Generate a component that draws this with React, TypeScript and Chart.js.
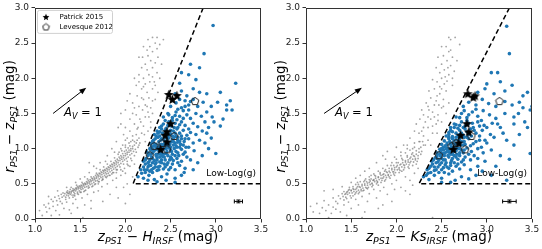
import React, { useEffect, useRef } from "react";
import { Chart, registerables } from "chart.js";
Chart.register(...registerables);

type P = [number, number];

// ---------- axes ----------
const X_MIN = 1.0, X_MAX = 3.5, X_STEP = 0.5;
const Y_MIN = 0.0, Y_MAX = 3.0, Y_STEP = 0.5;

// ---------- left panel (z - H) ----------
const GREY_L_BAND: P[] = [[1.12,0.17],[1.15,0.22],[1.18,0.28],[1.2,0.18],[1.22,0.31],[1.24,0.26],[1.26,0.33],[1.27,0.29],[1.29,0.35],[1.3,0.31],[1.31,0.37],[1.32,0.33],[1.33,0.36],[1.34,0.31],[1.35,0.38],[1.35,0.34],[1.36,0.4],[1.37,0.36],[1.37,0.33],[1.38,0.39],[1.39,0.35],[1.39,0.42],[1.4,0.37],[1.41,0.4],[1.41,0.34],[1.42,0.43],[1.43,0.38],[1.43,0.41],[1.44,0.36],[1.45,0.44],[1.45,0.4],[1.46,0.42],[1.47,0.38],[1.47,0.46],[1.48,0.43],[1.49,0.4],[1.49,0.47],[1.5,0.44],[1.51,0.42],[1.51,0.48],[1.52,0.45],[1.53,0.5],[1.53,0.43],[1.54,0.47],[1.55,0.51],[1.55,0.45],[1.56,0.49],[1.57,0.46],[1.57,0.53],[1.58,0.5],[1.59,0.47],[1.59,0.55],[1.6,0.51],[1.61,0.49],[1.61,0.56],[1.62,0.53],[1.63,0.5],[1.63,0.58],[1.64,0.55],[1.65,0.52],[1.65,0.6],[1.66,0.56],[1.67,0.54],[1.67,0.62],[1.68,0.58],[1.69,0.55],[1.69,0.63],[1.7,0.6],[1.71,0.57],[1.71,0.65],[1.72,0.61],[1.73,0.59],[1.73,0.67],[1.74,0.63],[1.75,0.6],[1.75,0.69],[1.76,0.65],[1.77,0.62],[1.77,0.7],[1.78,0.66],[1.79,0.64],[1.79,0.72],[1.8,0.68],[1.81,0.65],[1.81,0.74],[1.82,0.7],[1.83,0.67],[1.83,0.76],[1.84,0.72],[1.85,0.69],[1.85,0.78],[1.86,0.74],[1.87,0.71],[1.87,0.8],[1.88,0.76],[1.89,0.73],[1.89,0.83],[1.9,0.78],[1.91,0.75],[1.91,0.85],[1.92,0.8],[1.93,0.77],[1.93,0.88],[1.94,0.83],[1.95,0.79],[1.95,0.9],[1.96,0.85],[1.97,0.82],[1.97,0.93],[1.98,0.87],[1.99,0.84],[1.99,0.96],[2.0,0.9],[2.01,0.86],[2.01,0.98],[2.02,0.92],[2.03,0.88],[2.03,1.01],[2.04,0.95],[2.05,0.91],[2.05,1.04],[2.06,0.97],[2.07,0.93],[2.08,1.0],[2.09,0.96],[2.1,1.05],[2.11,0.99],[2.12,1.08],[2.14,1.02],
[1.38,0.3],[1.4,0.45],[1.44,0.33],[1.46,0.48],[1.5,0.38],[1.52,0.52],[1.56,0.41],[1.58,0.57],[1.6,0.45],[1.62,0.6],[1.66,0.49],[1.68,0.65],[1.7,0.53],[1.72,0.7],[1.74,0.55],[1.76,0.74],[1.78,0.6],[1.8,0.78],[1.82,0.62],[1.84,0.82],[1.86,0.66],[1.88,0.87],[1.9,0.7],[1.92,0.92],[1.94,0.74],[1.96,0.97],[1.98,0.78],[2.0,1.02],[2.02,0.82],[2.04,1.08],[2.06,0.86],[2.08,1.12],[1.97,1.05],[2.0,1.12],[1.95,1.0],[1.93,0.95],[2.02,0.78],[1.9,0.66],[1.85,0.64],[1.8,0.61],[1.75,0.56],[1.7,0.5],[1.64,0.47],[1.54,0.39],[1.48,0.35],[1.42,0.31],[1.34,0.28],[1.28,0.25],
[1.36,0.37],[1.38,0.37],[1.4,0.39],[1.42,0.4],[1.44,0.42],[1.46,0.44],[1.48,0.45],[1.5,0.46],[1.52,0.47],[1.54,0.49],[1.56,0.5],[1.58,0.52],[1.6,0.53],[1.62,0.55],[1.64,0.57],[1.66,0.58],[1.68,0.6],[1.7,0.62],[1.72,0.64],[1.74,0.66],[1.76,0.68],[1.78,0.69],[1.8,0.71],[1.82,0.73],[1.84,0.75],[1.86,0.77],[1.88,0.79],[1.9,0.81],[1.92,0.83],[1.94,0.86],[1.96,0.88],[1.98,0.9],[2.0,0.93],[2.02,0.95],[2.04,0.98],[2.06,1.0],[2.08,1.03],[2.1,0.9],[2.12,0.95],[2.13,1.12],[2.15,1.05],[2.07,0.83],[2.03,0.76],[1.99,0.72],[1.95,0.7],[1.91,0.7],[1.87,0.66],[1.83,0.62],[1.79,0.59],[1.75,0.57],[1.71,0.53],[1.67,0.5],[1.63,0.46],[1.59,0.44],[1.55,0.4],[1.51,0.38],[1.47,0.36],[1.43,0.34]];
const GREY_L_SCATTER: P[] = [[1.05,0.12],[1.08,0.05],[1.1,0.2],[1.13,0.1],[1.16,0.15],[1.18,0.05],[1.2,0.25],[1.23,0.12],[1.25,0.2],[1.27,0.06],[1.3,0.22],[1.32,0.15],[1.35,0.24],[1.38,0.13],[1.42,0.22],[1.45,0.28],[1.47,0.16],[1.52,0.3],[1.55,0.6],[1.5,0.57],[1.45,0.52],[1.6,0.66],[1.58,0.35],[1.62,0.26],[1.65,0.38],[1.7,0.4],[1.68,0.72],[1.74,0.46],[1.78,0.82],[1.8,0.5],[1.83,0.35],[1.86,0.55],[1.88,0.95],[1.9,0.58],[1.92,0.3],[1.95,0.62],[1.97,0.68],[2.0,0.65],[2.02,0.5],[2.05,0.75],[2.05,0.35],[2.0,0.22],[1.9,0.45],[1.75,0.25],[1.62,0.15],[1.4,0.08],[1.53,0.02],[1.85,1.0],[1.8,0.9],[1.72,0.8],[1.65,0.75],[1.6,0.8],[1.55,0.2],[2.08,0.6],[2.1,0.78],[1.98,0.45],[1.35,0.45],[1.25,0.4],[1.15,0.32]];
const GREY_L_SPRAY: P[] = [[2.1,1.1],[2.12,1.2],[2.15,1.15],[2.08,1.18],[2.14,1.3],[2.18,1.22],[2.05,1.25],[2.1,1.35],[2.2,1.32],[2.16,1.42],[2.22,1.45],[2.12,1.48],[2.19,1.55],[2.25,1.52],[2.08,1.5],[2.15,1.6],[2.22,1.62],[2.28,1.58],[2.2,1.7],[2.26,1.72],[2.13,1.75],[2.3,1.68],[2.24,1.8],[2.18,1.85],[2.3,1.85],[2.22,1.92],[2.27,1.95],[2.33,1.9],[2.2,2.0],[2.26,2.05],[2.3,2.02],[2.24,2.12],[2.3,2.15],[2.35,2.08],[2.22,2.2],[2.28,2.25],[2.33,2.22],[2.25,2.32],[2.3,2.38],[2.36,2.3],[2.27,2.45],[2.33,2.5],[2.3,2.58],[2.38,2.48],[2.35,2.42],[2.4,2.2],[2.38,2.0],[2.36,1.8],[2.33,1.7],[2.3,1.5],[2.28,1.38],[2.25,1.25],[2.22,1.1],[2.02,1.15],[1.98,1.2],[2.0,1.3],[1.95,1.35],[2.05,1.42],[2.0,1.55],[2.08,1.65],[2.05,1.78],[2.12,1.9],[2.15,2.05],[2.18,2.15],[2.1,2.0],[2.15,1.95],[2.18,1.72],[2.1,1.58],[2.17,1.38],[2.24,1.6],[2.13,1.28],[2.2,1.88],[2.26,1.45],[2.32,1.95],[2.19,2.3],[2.24,2.4],[1.92,1.3],[1.9,1.1],[2.0,1.05],[2.06,1.1],[2.25,2.55],[2.2,2.45],[2.15,2.3],[2.35,2.58],[2.42,2.55],[2.28,1.3],[2.21,1.2],[2.16,1.08],[1.95,1.5],[2.02,1.68]];
const BLUE_L_CORE: P[] = [[2.14,0.6],[2.2,0.58],[2.26,0.62],[2.32,0.56],[2.4,0.6],[2.46,0.64],[2.55,0.58],[2.62,0.62],[2.18,0.65],[2.3,0.66],
[2.17,0.7],[2.2,0.74],[2.24,0.7],[2.28,0.76],[2.31,0.72],[2.35,0.69],[2.38,0.75],[2.42,0.71],[2.46,0.77],[2.5,0.73],[2.55,0.7],[2.6,0.76],[2.66,0.72],[2.22,0.78],[2.33,0.78],[2.27,0.68],
[2.2,0.82],[2.23,0.86],[2.26,0.81],[2.29,0.88],[2.32,0.83],[2.35,0.87],[2.38,0.81],[2.41,0.89],[2.44,0.84],[2.47,0.8],[2.5,0.88],[2.53,0.83],[2.57,0.86],[2.62,0.82],[2.68,0.88],[2.25,0.9],[2.36,0.92],[2.3,0.8],[2.72,0.84],[2.4,0.84],
[2.24,0.95],[2.27,1.0],[2.3,0.94],[2.33,0.98],[2.36,1.02],[2.39,0.95],[2.42,0.99],[2.45,0.93],[2.48,1.01],[2.51,0.96],[2.54,1.0],[2.58,0.94],[2.62,0.99],[2.66,0.95],[2.7,1.02],[2.76,0.97],[2.29,1.03],[2.44,1.04],[2.56,1.04],[2.34,0.92],
[2.28,1.07],[2.31,1.12],[2.34,1.06],[2.37,1.1],[2.4,1.14],[2.43,1.07],[2.46,1.11],[2.49,1.06],[2.52,1.13],[2.55,1.08],[2.58,1.12],[2.61,1.06],[2.65,1.1],[2.7,1.14],[2.75,1.08],[2.82,1.12],[2.38,1.05],[2.5,1.09],[2.62,1.14],[2.33,1.14],
[2.32,1.2],[2.35,1.25],[2.38,1.18],[2.41,1.22],[2.44,1.26],[2.47,1.17],[2.5,1.21],[2.53,1.25],[2.56,1.18],[2.6,1.22],[2.64,1.26],[2.68,1.19],[2.72,1.23],[2.78,1.2],[2.85,1.25],[2.46,1.23],[2.58,1.16],[2.36,1.22],
[2.38,1.3],[2.42,1.35],[2.45,1.29],[2.48,1.38],[2.51,1.32],[2.55,1.36],[2.58,1.3],[2.62,1.38],[2.66,1.33],[2.7,1.28],[2.75,1.36],[2.8,1.31],[2.88,1.38],[2.52,1.4],[2.6,1.34],[2.92,1.3],
[2.42,1.45],[2.47,1.5],[2.52,1.44],[2.56,1.52],[2.6,1.46],[2.64,1.54],[2.68,1.48],[2.72,1.43],[2.78,1.5],[2.84,1.46],[2.9,1.52],[2.96,1.45],[2.55,1.47],[2.7,1.55],
[2.5,1.6],[2.56,1.65],[2.62,1.58],[2.66,1.68],[2.7,1.62],[2.75,1.7],[2.8,1.6],[2.86,1.66],[2.95,1.6],[3.02,1.66],[3.12,1.62],[3.16,1.68],[2.6,1.7],[2.72,1.67],
[2.3,0.86],[2.34,0.9],[2.38,0.88],[2.42,0.92],[2.46,0.96],[2.5,0.98],[2.37,0.97],[2.41,1.01],[2.45,1.0],[2.4,1.06],[2.44,1.1],[2.48,1.15],[2.35,1.0],[2.32,1.04],[2.28,0.98],[2.26,0.93],[2.27,0.84],[2.34,0.8],[2.43,0.78],[2.52,0.92],[2.56,0.96],[2.6,1.02],[2.64,1.05],[2.54,1.16],[2.5,1.26],[2.57,1.28],[2.4,1.28],[2.47,1.33],[2.25,0.74],[2.21,0.7],[2.36,0.74],[2.49,0.84],[2.39,1.12],[2.43,1.18],[2.36,1.16],[2.31,1.08],[2.3,1.0],[2.47,1.04],[2.53,1.05],[2.58,1.09],
[2.22,0.66],[2.26,0.76],[2.29,0.7],[2.33,0.74],[2.37,0.7],[2.4,0.8],[2.44,0.74],[2.48,0.7],[2.52,0.78],[2.58,0.8],[2.22,0.84],[2.25,0.8],[2.28,0.92],[2.31,0.96],[2.35,0.84],[2.39,0.92],[2.43,0.88],[2.47,0.9],[2.51,0.86],[2.55,0.9],[2.59,0.9],[2.64,0.92],[2.3,1.1],[2.34,1.02],[2.38,1.02],[2.42,1.04],[2.46,1.07],[2.5,1.02],[2.53,1.1],[2.57,1.02],[2.6,1.1],[2.67,1.02],[2.34,1.18],[2.38,1.24],[2.42,1.13],[2.45,1.16],[2.49,1.2],[2.52,1.18],[2.55,1.22],[2.62,1.18],[2.66,1.14],[2.4,1.32],[2.44,1.4],[2.5,1.35],[2.54,1.3],[2.57,1.41],[2.64,1.43],[2.48,1.48],[2.58,1.56],[2.66,1.6]];
const BLUE_L_OUT: P[] = [[2.55,1.78],[2.62,1.82],[2.68,1.75],[2.75,1.85],[2.82,1.8],[2.9,1.78],[3.05,1.8],[3.22,1.93],[2.6,1.93],[2.7,2.05],[2.62,2.08],[2.78,1.98],[2.87,2.35],[2.97,2.75],[2.72,2.2],[2.82,2.15],[3.0,0.93],[2.92,1.0],[2.95,1.15],[3.08,1.42],[3.12,1.55],[2.85,0.9],[2.8,0.8],[2.75,0.7],[2.45,0.55],[2.55,0.52],[2.35,0.53],[2.25,0.55],[2.65,0.66],[3.18,1.55],[3.05,1.32],[2.98,1.38],[2.88,1.08],[2.9,1.22]];
const STARS_L: P[] = [[2.48,1.77],[2.57,1.755],[2.52,1.70],[2.50,1.355],[2.46,1.24],[2.44,1.19],[2.46,1.095],[2.39,0.99]];
const PENTS_L: P[] = [[2.27,0.906],[2.32,1.04],[2.41,1.08],[2.46,0.99],[2.54,1.18],[2.77,1.676]];
const CUT_L: P[] = [[2.86,3.0],[2.085,0.5],[3.5,0.5]];
const ARROW_L: P[] = [[1.2,1.5],[1.567,1.865]];
const ERR_L = { x: 3.25, y: 0.25, dx: 0.045, dy: 0.02 };

// ---------- right panel (z - Ks) ----------
const GREY_R_BAND: P[] = [[1.3,0.3],[1.33,0.25],[1.36,0.33],[1.38,0.29],[1.4,0.36],[1.41,0.32],[1.42,0.39],[1.43,0.35],[1.44,0.31],[1.45,0.38],[1.46,0.35],[1.47,0.41],[1.48,0.37],[1.49,0.33],[1.5,0.4],[1.51,0.37],[1.52,0.43],[1.53,0.39],[1.54,0.35],[1.55,0.42],[1.56,0.39],[1.57,0.46],[1.58,0.41],[1.59,0.38],[1.6,0.45],[1.61,0.42],[1.62,0.49],[1.63,0.44],[1.64,0.41],[1.65,0.48],[1.66,0.45],[1.67,0.53],[1.68,0.48],[1.69,0.45],[1.7,0.52],[1.71,0.49],[1.72,0.57],[1.73,0.51],[1.74,0.48],[1.75,0.56],[1.76,0.53],[1.77,0.61],[1.78,0.55],[1.79,0.52],[1.8,0.59],[1.81,0.56],[1.82,0.64],[1.83,0.58],[1.84,0.55],[1.85,0.63],[1.86,0.6],[1.87,0.68],[1.88,0.62],[1.89,0.59],[1.9,0.66],[1.91,0.63],[1.92,0.72],[1.93,0.66],[1.94,0.62],[1.95,0.7],[1.96,0.67],[1.97,0.76],[1.98,0.7],[1.99,0.66],[2.0,0.74],[2.01,0.7],[2.02,0.8],[2.03,0.73],[2.04,0.69],[2.05,0.78],[2.06,0.74],[2.07,0.84],[2.08,0.77],[2.09,0.73],[2.1,0.81],[2.11,0.78],[2.12,0.88],[2.13,0.81],[2.14,0.77],[2.15,0.86],[2.16,0.82],[2.17,0.92],[2.18,0.85],[2.19,0.81],[2.2,0.89],[2.21,0.86],[2.22,0.97],[2.24,0.9],[2.25,0.95],[2.27,1.02],[2.28,0.96],[2.3,1.05],
[1.45,0.29],[1.48,0.45],[1.52,0.33],[1.55,0.49],[1.58,0.36],[1.6,0.53],[1.63,0.4],[1.66,0.57],[1.68,0.43],[1.7,0.6],[1.73,0.46],[1.75,0.64],[1.78,0.5],[1.8,0.68],[1.83,0.52],[1.85,0.72],[1.88,0.56],[1.9,0.76],[1.93,0.58],[1.95,0.8],[1.98,0.62],[2.0,0.85],[2.03,0.66],[2.05,0.9],[2.08,0.7],[2.1,0.94],[2.13,0.74],[2.15,0.98],[2.18,0.76],[2.2,1.02],[2.23,0.82],[2.26,1.1],[2.12,1.0],[2.05,0.95],[1.98,0.88],[1.5,0.3],[1.42,0.27],[1.57,0.52],[1.65,0.55],[1.72,0.62],[1.8,0.48],[1.87,0.54],[1.92,0.6],[1.97,0.64],[2.06,0.68],[2.14,0.72],[2.22,0.78],
[1.44,0.36],[1.46,0.39],[1.5,0.41],[1.53,0.42],[1.56,0.44],[1.59,0.46],[1.62,0.47],[1.65,0.5],[1.68,0.51],[1.71,0.54],[1.74,0.55],[1.77,0.58],[1.8,0.6],[1.83,0.62],[1.86,0.64],[1.89,0.67],[1.92,0.68],[1.95,0.72],[1.98,0.73],[2.01,0.76],[2.04,0.77],[2.07,0.8],[2.1,0.83],[2.13,0.84],[2.16,0.88],[2.19,0.9],[2.22,0.92],[2.25,1.0],[2.27,0.92],[2.29,1.1],[2.24,0.86],[2.18,0.94],[2.12,0.9],[2.06,0.86],[2.0,0.8],[1.94,0.76],[1.88,0.7],[1.82,0.66],[1.76,0.62],[1.7,0.56],[1.64,0.53],[1.58,0.49],[1.52,0.46],[1.48,0.42],[1.55,0.37],[1.61,0.4],[1.67,0.44],[1.73,0.5],[1.79,0.53],[1.85,0.58],[1.91,0.62],[1.97,0.67],[2.03,0.71],[2.09,0.76],[2.15,0.8],[2.21,0.84]];
const GREY_R_SCATTER: P[] = [[1.05,0.18],[1.08,0.1],[1.12,0.22],[1.15,0.08],[1.18,0.16],[1.2,0.26],[1.22,0.12],[1.25,0.2],[1.28,0.08],[1.3,0.17],[1.33,0.14],[1.35,0.22],[1.38,0.1],[1.42,0.2],[1.47,0.24],[1.5,0.15],[1.55,0.28],[1.58,0.2],[1.62,0.32],[1.68,0.25],[1.7,0.36],[1.75,0.42],[1.78,0.3],[1.82,0.4],[1.86,0.45],[1.9,0.35],[1.95,0.5],[2.0,0.55],[2.05,0.45],[2.1,0.6],[2.15,0.55],[2.2,0.65],[2.18,0.48],[2.24,0.72],[1.95,0.25],[1.85,0.2],[1.6,0.62],[1.55,0.58],[1.5,0.52],[1.7,0.72],[1.78,0.8],[1.85,0.9],[1.65,0.1],[1.45,0.05],[1.62,0.02],[1.9,0.96],[2.0,1.02],[2.08,1.05],[1.8,0.15],[1.4,0.46],[1.3,0.42],[1.75,0.55],[2.1,0.4],[2.4,0.02],[2.15,0.35],[1.98,0.42],[1.88,0.85],[1.65,0.68],[1.2,0.4],[1.25,0.02]];
const GREY_R_SPRAY: P[] = [[2.25,1.1],[2.3,1.18],[2.35,1.12],[2.28,1.25],[2.35,1.3],[2.4,1.22],[2.32,1.38],[2.38,1.42],[2.44,1.35],[2.3,1.48],[2.4,1.52],[2.46,1.48],[2.35,1.6],[2.42,1.62],[2.5,1.58],[2.38,1.72],[2.45,1.75],[2.52,1.7],[2.42,1.85],[2.48,1.88],[2.55,1.82],[2.45,1.95],[2.5,2.0],[2.56,1.96],[2.48,2.08],[2.53,2.12],[2.58,2.05],[2.5,2.2],[2.56,2.25],[2.6,2.18],[2.52,2.32],[2.58,2.38],[2.55,2.45],[2.6,2.55],[2.62,2.3],[2.64,2.1],[2.62,1.9],[2.58,1.65],[2.55,1.5],[2.5,1.38],[2.45,1.22],[2.38,1.05],[2.2,1.08],[2.25,1.22],[2.22,1.35],[2.28,1.55],[2.33,1.65],[2.36,1.82],[2.4,1.98],[2.44,2.15],[2.46,2.3],[2.5,2.45],[2.4,1.32],[2.47,1.62],[2.53,1.92],[2.57,2.15],[2.32,1.05],[2.42,1.45],[2.48,1.78],[2.35,1.45],[2.44,1.68],[2.5,1.85],[2.54,2.02],[2.6,2.4],[2.65,2.58],[2.58,2.58],[2.2,1.25],[2.18,1.0],[2.26,1.42],[2.3,1.3],[2.36,1.55],[2.62,2.0],[2.67,2.25],[2.7,2.48],[2.52,1.6],[2.46,1.4],[2.15,1.15],[2.12,1.05]];
const BLUE_R_CORE: P[] = [[2.3,0.6],[2.36,0.56],[2.42,0.62],[2.5,0.58],[2.58,0.64],[2.65,0.55],[2.72,0.6],[2.8,0.57],[2.35,0.65],[2.47,0.66],[2.6,0.52],
[2.34,0.7],[2.38,0.75],[2.42,0.69],[2.46,0.74],[2.5,0.7],[2.54,0.77],[2.58,0.72],[2.62,0.68],[2.66,0.75],[2.7,0.71],[2.75,0.77],[2.82,0.7],[2.9,0.75],[2.4,0.78],[2.52,0.73],[2.36,0.72],
[2.39,0.82],[2.43,0.87],[2.46,0.81],[2.49,0.89],[2.52,0.84],[2.55,0.8],[2.58,0.88],[2.61,0.83],[2.64,0.9],[2.68,0.85],[2.72,0.81],[2.76,0.88],[2.82,0.84],[2.9,0.86],[2.98,0.82],[2.45,0.9],[2.6,0.8],[2.5,0.86],
[2.45,0.94],[2.48,0.99],[2.52,0.93],[2.55,1.0],[2.58,0.95],[2.61,1.02],[2.64,0.96],[2.67,0.92],[2.7,1.0],[2.74,0.94],[2.78,1.01],[2.83,0.96],[2.9,1.0],[2.96,0.94],[3.05,0.98],[2.52,1.02],[2.6,0.92],[2.66,1.02],
[2.5,1.06],[2.53,1.11],[2.56,1.05],[2.59,1.1],[2.62,1.14],[2.65,1.07],[2.68,1.12],[2.71,1.05],[2.75,1.1],[2.8,1.14],[2.85,1.07],[2.92,1.12],[3.0,1.08],[2.58,1.14],[2.7,1.14],[2.64,1.04],
[2.55,1.18],[2.58,1.23],[2.62,1.17],[2.66,1.22],[2.7,1.26],[2.74,1.19],[2.78,1.24],[2.83,1.18],[2.88,1.22],[2.95,1.26],[3.04,1.2],[2.68,1.18],[2.6,1.26],
[2.6,1.3],[2.64,1.35],[2.68,1.29],[2.72,1.38],[2.76,1.32],[2.8,1.36],[2.85,1.3],[2.9,1.38],[2.97,1.33],[3.06,1.36],[3.15,1.3],[2.7,1.33],
[2.66,1.45],[2.72,1.5],[2.78,1.44],[2.84,1.52],[2.9,1.46],[2.96,1.54],[3.03,1.48],[3.1,1.43],[3.2,1.5],[3.3,1.45],[2.75,1.54],
[2.74,1.6],[2.8,1.66],[2.88,1.62],[2.95,1.7],[3.02,1.64],[3.1,1.6],[3.2,1.67],[3.28,1.62],[3.36,1.66],[2.85,1.72],
[2.5,0.8],[2.54,0.84],[2.57,0.9],[2.6,0.96],[2.63,0.99],[2.56,0.96],[2.53,0.9],[2.47,0.84],[2.44,0.8],[2.42,0.74],[2.62,0.86],[2.66,0.88],[2.7,0.94],[2.72,0.98],[2.68,1.0],[2.62,1.08],[2.66,1.16],[2.72,1.22],[2.76,1.28],[2.57,1.0],[2.49,0.96],[2.52,0.98],[2.54,1.04],[2.6,1.06],[2.74,1.05],[2.78,1.16],[2.82,1.28],[2.64,1.3],[2.58,1.2],[2.48,0.92],
[2.33,0.62],[2.38,0.66],[2.44,0.7],[2.48,0.77],[2.53,0.66],[2.56,0.74],[2.6,0.76],[2.64,0.8],[2.68,0.78],[2.74,0.84],[2.41,0.84],[2.45,0.86],[2.5,0.93],[2.54,0.94],[2.58,0.99],[2.62,0.92],[2.66,0.97],[2.7,0.9],[2.75,0.98],[2.8,0.92],[2.86,0.9],[2.5,1.0],[2.56,1.08],[2.6,1.01],[2.64,1.12],[2.68,1.06],[2.72,1.1],[2.76,1.06],[2.82,1.04],[2.88,1.1],[2.58,1.16],[2.62,1.24],[2.7,1.2],[2.75,1.16],[2.8,1.2],[2.86,1.26],[2.92,1.18],[2.66,1.34],[2.74,1.3],[2.78,1.4],[2.84,1.36],[2.92,1.32],[2.7,1.44],[2.8,1.48],[2.88,1.56],[2.94,1.4],[3.0,1.3],[2.98,1.12],[3.08,1.16],[2.94,1.02]];
const BLUE_R_OUT: P[] = [[3.45,1.8],[3.4,1.75],[3.5,1.6],[3.48,1.55],[3.42,1.38],[3.45,1.3],[3.36,1.2],[3.3,1.05],[3.48,0.93],[3.25,0.85],[3.22,0.55],[3.1,0.75],[3.15,0.9],[3.22,1.12],[3.25,2.35],[3.22,2.74],[3.05,2.08],[3.15,1.95],[2.98,1.85],[3.08,1.78],[3.2,1.82],[3.28,1.9],[2.9,1.8],[3.0,1.92],[3.35,1.5],[3.4,1.58],[3.12,1.35],[3.18,1.22],[3.3,1.35],[2.95,0.68],[3.05,0.62],[2.88,0.62],[2.5,0.52],[3.12,2.08]];
const STARS_R: P[] = [[2.79,1.78],[2.85,1.73],[2.87,1.75],[2.78,1.355],[2.80,1.237],[2.71,1.19],[2.69,1.08],[2.63,0.99]];
const PENTS_R: P[] = [[2.47,0.906],[2.61,1.04],[2.66,1.08],[2.76,0.99],[2.83,1.18],[3.14,1.676]];
const CUT_R: P[] = [[3.25,3.0],[2.25,0.5],[3.5,0.5]];
const ARROW_R: P[] = [[1.2,1.5],[1.618,1.865]];
const ERR_R = { x: 3.25, y: 0.25, dx: 0.075, dy: 0.02 };

// ---------- labels ----------
const LEGEND_LABELS = ["Patrick 2015", "Levesque 2012"];
const LOWLOG_TEXT = "Low-Log(g)";
const LOWLOG_POS: P = [3.17, 0.64];
const AV_POS: P = [1.53, 1.52];

type Seg = { t: string; it?: boolean; sub?: boolean };
const Y_TITLE: Seg[] = [{ t: "r", it: true }, { t: "PS1", it: true, sub: true }, { t: " \u2212 " }, { t: "z", it: true }, { t: "PS1", it: true, sub: true }, { t: " (mag)" }];
const X_TITLE_L: Seg[] = [{ t: "z", it: true }, { t: "PS1", it: true, sub: true }, { t: " \u2212 " }, { t: "H", it: true }, { t: "IRSF", it: true, sub: true }, { t: " (mag)" }];
const X_TITLE_R: Seg[] = [{ t: "z", it: true }, { t: "PS1", it: true, sub: true }, { t: " \u2212 " }, { t: "Ks", it: true }, { t: "IRSF", it: true, sub: true }, { t: " (mag)" }];
const AV_TEXT: Seg[] = [{ t: "A", it: true }, { t: "V", it: true, sub: true }, { t: " = 1" }];

const FAM = '"DejaVu Sans", "Liberation Sans", sans-serif';
const BLUE = "#1f77b4";

function drawMath(ctx: CanvasRenderingContext2D, segs: Seg[], x: number, y: number, size: number) {
  const f = (s: Seg) => `${s.it ? "italic " : ""}${s.sub ? size * 0.7 : size}px ${FAM}`;
  let w = 0;
  for (const s of segs) { ctx.font = f(s); w += ctx.measureText(s.t).width; }
  let cx = x - w / 2;
  ctx.textAlign = "left";
  ctx.textBaseline = "alphabetic";
  for (const s of segs) {
    ctx.font = f(s);
    ctx.fillText(s.t, cx, s.sub ? y + size * 0.25 : y);
    cx += ctx.measureText(s.t).width;
  }
}

function makeStar(size: number) {
  const c = document.createElement("canvas");
  c.width = size; c.height = size;
  const g = c.getContext("2d")!;
  const cx = size / 2, cy = size / 2 + 0.4, R = size / 2 - 0.4, r = R * 0.45;
  g.beginPath();
  for (let i = 0; i < 10; i++) {
    const a = -Math.PI / 2 + (i * Math.PI) / 5;
    const rr = i % 2 === 0 ? R : r;
    g.lineTo(cx + rr * Math.cos(a), cy + rr * Math.sin(a));
  }
  g.closePath();
  g.fillStyle = "#000";
  g.fill();
  return c;
}
function makePent(size: number) {
  const c = document.createElement("canvas");
  c.width = size; c.height = size;
  const g = c.getContext("2d")!;
  const cx = size / 2, cy = size / 2 + 0.3, R = size / 2 - 1;
  g.beginPath();
  for (let i = 0; i < 5; i++) {
    const a = -Math.PI / 2 + (i * 2 * Math.PI) / 5;
    g.lineTo(cx + R * Math.cos(a), cy + R * Math.sin(a));
  }
  g.closePath();
  g.strokeStyle = "#222";
  g.lineWidth = 1;
  g.stroke();
  return c;
}

const pts = (a: P[]) => a.map(([x, y]) => ({ x, y }));

type PanelDef = {
  grey: P[]; blue: P[]; stars: P[]; pents: P[]; cut: P[]; arrow: P[];
  err: { x: number; y: number; dx: number; dy: number }; xTitle: Seg[]; legend: boolean;
};

const PANELS: PanelDef[] = [
  { grey: [...GREY_L_BAND, ...GREY_L_SCATTER, ...GREY_L_SPRAY], blue: [...BLUE_L_CORE, ...BLUE_L_OUT], stars: STARS_L, pents: PENTS_L, cut: CUT_L, arrow: ARROW_L, err: ERR_L, xTitle: X_TITLE_L, legend: true },
  { grey: [...GREY_R_BAND, ...GREY_R_SCATTER, ...GREY_R_SPRAY], blue: [...BLUE_R_CORE, ...BLUE_R_OUT], stars: STARS_R, pents: PENTS_R, cut: CUT_R, arrow: ARROW_R, err: ERR_R, xTitle: X_TITLE_R, legend: false },
];

function Panel({ def }: { def: PanelDef }) {
  const ref = useRef<HTMLCanvasElement>(null);
  useEffect(() => {
    const star = makeStar(11);
    const pent = makePent(10);
    const starSmall = makeStar(8);
    const pentSmall = makePent(9);
    const overlay = {
      id: "overlay",
      afterDatasetsDraw(chart: any) {
        const ctx: CanvasRenderingContext2D = chart.ctx;
        const xs = chart.scales.x, ys = chart.scales.y;
        const ca = chart.chartArea;
        const px = (v: number) => xs.getPixelForValue(v);
        const py = (v: number) => ys.getPixelForValue(v);
        ctx.save();
        // arrow
        const [a0, a1] = def.arrow;
        const x0 = px(a0[0]), y0 = py(a0[1]), x1 = px(a1[0]), y1 = py(a1[1]);
        const ang = Math.atan2(y1 - y0, x1 - x0);
        ctx.strokeStyle = "#000"; ctx.fillStyle = "#000"; ctx.lineWidth = 1;
        ctx.beginPath(); ctx.moveTo(x0, y0); ctx.lineTo(x1 - 4 * Math.cos(ang), y1 - 4 * Math.sin(ang)); ctx.stroke();
        ctx.beginPath();
        ctx.moveTo(x1, y1);
        ctx.lineTo(x1 - 7 * Math.cos(ang) + 2.8 * Math.sin(ang), y1 - 7 * Math.sin(ang) - 2.8 * Math.cos(ang));
        ctx.lineTo(x1 - 7 * Math.cos(ang) - 2.8 * Math.sin(ang), y1 - 7 * Math.sin(ang) + 2.8 * Math.cos(ang));
        ctx.closePath(); ctx.fill();
        // A_V text
        ctx.fillStyle = "#000";
        drawMath(ctx, AV_TEXT, px(AV_POS[0]), py(AV_POS[1]) + 4, 11.5);
        // Low-Log(g)
        ctx.font = `9px ${FAM}`; ctx.textAlign = "center"; ctx.textBaseline = "middle";
        ctx.fillText(LOWLOG_TEXT, px(LOWLOG_POS[0]), py(LOWLOG_POS[1]));
        // error bar
        const e = def.err;
        const ex = px(e.x), ey = py(e.y);
        const exl = px(e.x - e.dx), exr = px(e.x + e.dx);
        const eyt = py(e.y + e.dy), eyb = py(e.y - e.dy);
        ctx.strokeStyle = "#000"; ctx.lineWidth = 1;
        ctx.beginPath();
        ctx.moveTo(exl, ey); ctx.lineTo(exr, ey);
        ctx.moveTo(exl, ey - 2); ctx.lineTo(exl, ey + 2);
        ctx.moveTo(exr, ey - 2); ctx.lineTo(exr, ey + 2);
        ctx.moveTo(ex, eyt); ctx.lineTo(ex, eyb);
        ctx.moveTo(ex - 2, eyt); ctx.lineTo(ex + 2, eyt);
        ctx.moveTo(ex - 2, eyb); ctx.lineTo(ex + 2, eyb);
        ctx.stroke();
        // legend
        if (def.legend) {
          const lx = ca.left + 2.5, ly = ca.top + 2.5, lw = 75, lh = 23;
          ctx.fillStyle = "rgba(255,255,255,0.85)";
          ctx.strokeStyle = "#d0d0d0";
          ctx.beginPath();
          (ctx as any).roundRect ? (ctx as any).roundRect(lx, ly, lw, lh, 2) : ctx.rect(lx, ly, lw, lh);
          ctx.fill(); ctx.stroke();
          ctx.drawImage(starSmall, lx + 8.5 - 4, ly + 6.5 - 4);
          ctx.drawImage(pentSmall, lx + 8.5 - 4.5, ly + 16.5 - 4.5);
          ctx.fillStyle = "#000";
          ctx.font = `7px ${FAM}`; ctx.textAlign = "left"; ctx.textBaseline = "middle";
          ctx.fillText(LEGEND_LABELS[0], lx + 22, ly + 6.5);
          ctx.fillText(LEGEND_LABELS[1], lx + 22, ly + 16.5);
        }
        // frame
        ctx.strokeStyle = "#333"; ctx.lineWidth = 1;
        ctx.strokeRect(Math.round(ca.left) + 0.5, Math.round(ca.top) + 0.5, Math.round(ca.right - ca.left) - 1, Math.round(ca.bottom - ca.top) - 1);
        ctx.restore();
      },
      afterDraw(chart: any) {
        const ctx: CanvasRenderingContext2D = chart.ctx;
        const ca = chart.chartArea;
        ctx.save();
        ctx.fillStyle = "#000";
        drawMath(ctx, def.xTitle, (ca.left + ca.right) / 2 + 10, 241, 13.5);
        ctx.translate(14, (ca.top + ca.bottom) / 2 + 3);
        ctx.rotate(-Math.PI / 2);
        drawMath(ctx, Y_TITLE, 0, 0, 13.5);
        ctx.restore();
      },
    };

    const tickFont = { size: 9, family: FAM };
    const chart = new Chart(ref.current!, {
      type: "scatter",
      data: {
        datasets: [
          { type: "line", data: pts(def.cut), showLine: true, borderColor: "#000", borderWidth: 1.5, borderDash: [5, 3], pointRadius: 0, fill: false, tension: 0, order: 0 } as any,
          { data: pts(def.stars), pointStyle: star as any, pointRadius: 5.5, order: 1 },
          { data: pts(def.pents), pointStyle: pent as any, pointRadius: 5, order: 2 },
          { data: pts(def.blue), backgroundColor: BLUE, borderWidth: 0, pointRadius: 1.8, order: 3 },
          { data: pts(def.grey), backgroundColor: "rgba(115,115,115,0.65)", borderWidth: 0, pointRadius: 0.9, order: 4 },
        ],
      },
      options: {
        responsive: false,
        animation: false,
        devicePixelRatio: 1,
        events: [],
        layout: { padding: { left: 0, right: 10, top: 7, bottom: 0 } },
        plugins: { legend: { display: false }, tooltip: { enabled: false } },
        scales: {
          x: {
            type: "linear", min: X_MIN, max: X_MAX,
            ticks: { stepSize: X_STEP, callback: (v: any) => Number(v).toFixed(1), font: tickFont, color: "#222", padding: 2, maxRotation: 0, autoSkip: false },
            grid: { drawOnChartArea: false, drawTicks: true, tickLength: 3.5, color: "#333" },
            border: { display: false },
            afterFit: (s: any) => { s.height = 30; },
          },
          y: {
            type: "linear", min: Y_MIN, max: Y_MAX,
            ticks: { stepSize: Y_STEP, callback: (v: any) => Number(v).toFixed(1), font: tickFont, color: "#222", padding: 2.5, autoSkip: false },
            grid: { drawOnChartArea: false, drawTicks: true, tickLength: 3.5, color: "#333" },
            border: { display: false },
            afterFit: (s: any) => { s.width = 35; },
          },
        },
      },
      plugins: [overlay],
    } as any);
    return () => chart.destroy();
  }, [def]);
  return <canvas ref={ref} width={271} height={249} style={{ display: "block", width: 271, height: 249 }} />;
}

export default function App() {
  return (
    <div style={{ position: "absolute", left: 0, top: 0, width: 542, height: 249, display: "flex", background: "#fff" }}>
      <Panel def={PANELS[0]} />
      <Panel def={PANELS[1]} />
    </div>
  );
}
